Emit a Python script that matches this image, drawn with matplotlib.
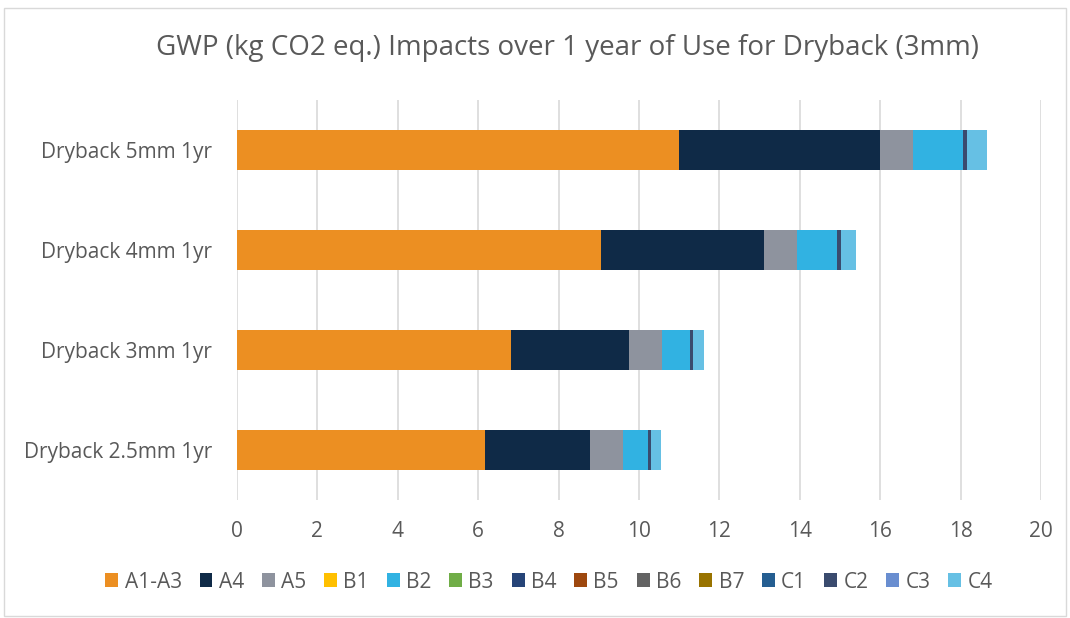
"""GWP stacked bars for Dryback, 1 year of use."""

import matplotlib.pyplot as plt
from matplotlib.patches import Rectangle

categories = ["Dryback 2.5mm 1yr", "Dryback 3mm 1yr", "Dryback 4mm 1yr", "Dryback 5mm 1yr"]
stages = ["A1-A3", "A4", "A5", "B1", "B2", "B3", "B4", "B5", "B6", "B7", "C1", "C2", "C3", "C4"]

a1_a3 = [6.17, 6.81, 9.05, 10.99]
a4 = [2.62, 2.94, 4.07, 5.01]
a5 = [0.80, 0.81, 0.80, 0.82]
b1 = [0, 0, 0, 0]
b2 = [0.64, 0.71, 1.00, 1.23]
b3 = [0, 0, 0, 0]
b4 = [0, 0, 0, 0]
b5 = [0, 0, 0, 0]
b6 = [0, 0, 0, 0]
b7 = [0, 0, 0, 0]
c1 = [0, 0, 0, 0]
c2 = [0.07, 0.07, 0.10, 0.12]
c3 = [0, 0, 0, 0]
c4 = [0.24, 0.28, 0.37, 0.48]

series = [a1_a3, a4, a5, b1, b2, b3, b4, b5, b6, b7, c1, c2, c3, c4]
colors = ["#EC8F22", "#0F2A47", "#8E939E", "#FFC000", "#31B2E2", "#70AD47", "#264478",
          "#9E480E", "#636363", "#997300", "#255E91", "#3A4B6E", "#698ED0", "#66C0E4"]

plt.rcParams["font.family"] = ["Open Sans", "DejaVu Sans"]
text_color = "#595959"

fig = plt.figure(figsize=(10.7, 6.18), dpi=100)
ax = fig.add_axes([237 / 1070, 1 - 500 / 618, 804 / 1070, 400 / 618])

left = [0.0] * len(categories)
for name, values, color in zip(stages, series, colors):
    ax.barh(categories, values, left=left, height=0.4, color=color, label=name, zorder=3)
    left = [l + v for l, v in zip(left, values)]

ax.set_xlim(0, 20)
ax.set_ylim(-0.5, 3.5)
ax.set_xticks(range(0, 21, 2))
ax.grid(axis="x", color="#D9D9D9", linewidth=1.2, zorder=0)
for side in ax.spines.values():
    side.set_visible(False)
ax.tick_params(length=0, labelsize=15, colors=text_color)
ax.tick_params(axis="x", pad=15)
ax.tick_params(axis="y", pad=18)

fig.text(567 / 1070, 1 - 48 / 618, "GWP (kg CO2 eq.) Impacts over 1 year of Use for Dryback (3mm)",
         ha="center", va="center", fontsize=20, color=text_color)

fig.legend(loc="center", bbox_to_anchor=(549 / 1070, 1 - 582 / 618), ncol=14, frameon=False,
           fontsize=15, labelcolor=text_color, handlelength=0.62, handleheight=0.62,
           handletextpad=0.3, columnspacing=0.86)

fig.patches.append(Rectangle((4 / 1070, 2 / 618), 1 - 8 / 1070, 1 - 10 / 618,
                             transform=fig.transFigure, fill=False,
                             edgecolor="#D9D9D9", linewidth=1))

fig.savefig("out.png", dpi=100)
plt.close(fig)
